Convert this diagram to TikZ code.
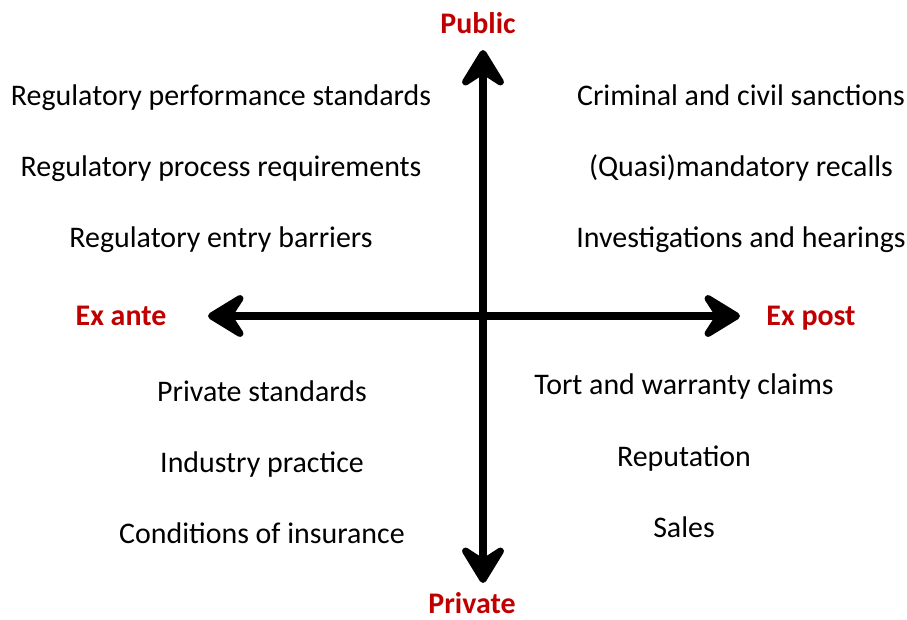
\documentclass[tikz,border=0pt]{standalone}
\usepackage{fontspec}
\setmainfont{Carlito}
\usetikzlibrary{arrows.meta}
\definecolor{axred}{HTML}{C00000}
\begin{document}
\begin{tikzpicture}[x=1pt,y=-1pt,
  lbl/.style={font=\fontsize{29.9}{32}\selectfont, inner sep=0pt, anchor=base},
  axlbl/.style={font=\fontsize{29.9}{32}\selectfont\bfseries, text=axred, inner sep=0pt, anchor=base},
  axis/.style={line width=8pt, -{Stealth[length=46pt,width=56pt,inset=18pt,round]}}]
\useasboundingbox (0,0) rectangle (907,619);
\coordinate (c) at (483,316);
\coordinate (top) at (483,50);
\coordinate (bot) at (483,583);
\coordinate (lft) at (208,316);
\coordinate (rgt) at (740,316);
\draw[axis] (c) -- (top);
\draw[axis] (c) -- (bot);
\draw[axis] (c) -- (lft);
\draw[axis] (c) -- (rgt);
\node[axlbl] (pub) at (478,33) {Public};
\node[axlbl, text depth=0pt] (priv) at (472,613) {Private};
\node[axlbl] (exa) at (121,325) {Ex ante};
\node[axlbl] (exp) at (811,325) {Ex post};
\node[lbl] (a1) at (221,105) {Regulatory performance standards};
\node[lbl] (a2) at (221,176) {Regulatory process requirements};
\node[lbl] (a3) at (221,247) {Regulatory entry barriers};
\node[lbl] (b1) at (741,105) {Criminal and civil sanctions};
\node[lbl] (b2) at (741,176) {(Quasi)mandatory recalls};
\node[lbl] (b3) at (741,247) {Investigations and hearings};
\node[lbl] (c1) at (262,401) {Private standards};
\node[lbl] (c2) at (262,472) {Industry practice};
\node[lbl] (c3) at (262,543) {Conditions of insurance};
\node[lbl] (d1) at (684,394) {Tort and warranty claims};
\node[lbl] (d2) at (684,466) {Reputation};
\node[lbl] (d3) at (684,537) {Sales};
\end{tikzpicture}
\end{document}
